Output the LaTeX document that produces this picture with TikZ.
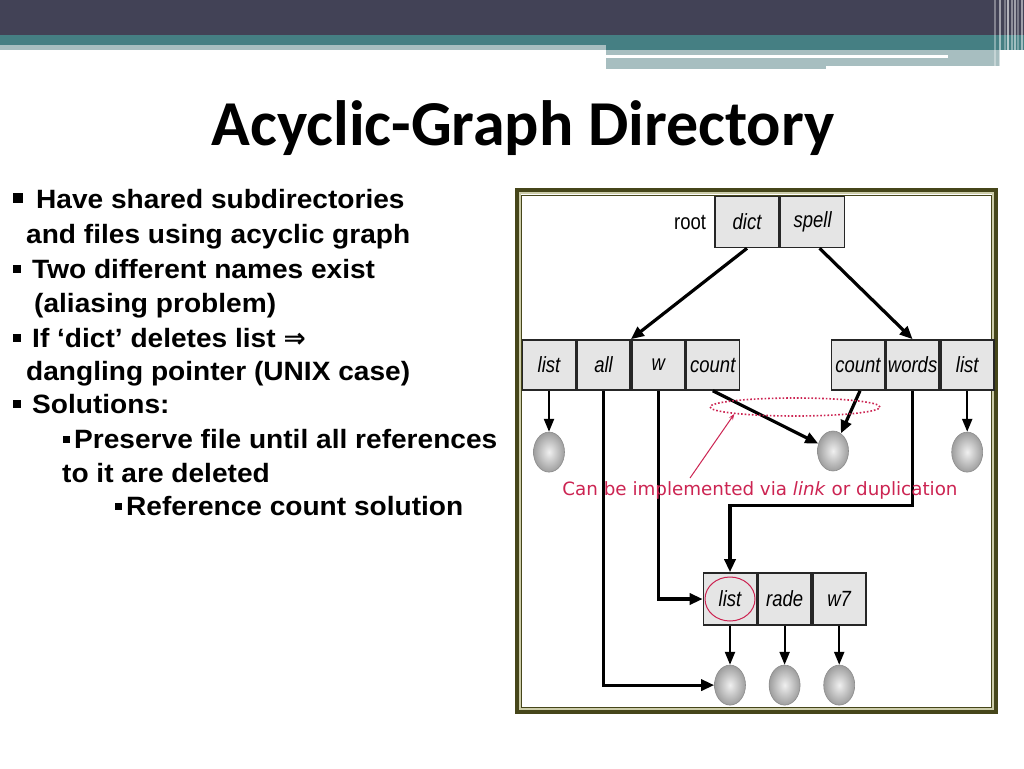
\documentclass[tikz,border=0pt]{standalone}
\usepackage{fontspec}
\setmainfont{Liberation Sans}
\newfontfamily\titlefont{Carlito}
\newfontfamily\bodyfont[FakeStretch=1.06]{Liberation Sans}
\newfontfamily\labelfont[FakeStretch=0.84]{Liberation Sans}
\newfontfamily\notefont{DejaVu Sans}
\usetikzlibrary{positioning,shapes.geometric,arrows.meta}

\definecolor{bannerdark}{RGB}{66,66,86}
\definecolor{bannerteal}{RGB}{69,127,131}
\definecolor{bannerlight}{RGB}{167,190,192}
\definecolor{framedark}{RGB}{70,70,26}
\definecolor{framelight}{RGB}{205,205,170}
\definecolor{linkred}{RGB}{204,36,82}

\newcommand{\sqbullet}[1]{\rule[5pt]{#1}{#1}}

\begin{document}
\begin{tikzpicture}[x=1pt,y=-1pt]
    \tikzset{
        cell/.style={draw=black!85, fill=black!10, line width=1.6pt, minimum width=53pt,
            minimum height=50pt, inner sep=0pt, font=\labelfont\itshape\fontsize{22}{22}\selectfont},
        filenode/.style={ellipse, draw=black!45, line width=0.6pt, minimum width=31pt,
            minimum height=40pt, inner sep=0pt, inner color=black!6, outer color=black!38},
        link/.style={line width=3.2pt, -{Triangle[length=13pt,width=11pt]}},
        thinlink/.style={line width=2.2pt, -{Triangle[length=13pt,width=10pt]}},
        bullettext/.style={anchor=base west, inner sep=0pt, font=\bodyfont\bfseries\fontsize{26.5}{30}\selectfont}
    }
    \useasboundingbox (0,0) rectangle (1024,768);
    \fill[white] (0,0) rectangle (1024,768);

    % banner
    \fill[bannerdark] (0,0) rectangle (1024,35);
    \fill[bannerteal] (0,35) rectangle (1024,45);
    \fill[bannerteal] (606,45) rectangle (1024,50);
    \fill[bannerlight] (0,45) rectangle (606,50);
    \fill[bannerlight] (606,50) rectangle (1000,66);
    \fill[bannerlight] (606,66) rectangle (826,69);
    \fill[white] (606,55) rectangle (948,58);
    \foreach \xx/\op in {995/0.35,1000/0.5,1005/0.3,1008/0.6,1012/0.4,1015/0.5,1018/0.3,1022/0.5}
        \draw[white, opacity=\op, line width=1.5pt] (\xx,0) -- (\xx,68);

    % title
    \node[anchor=base, inner sep=0pt, font=\titlefont\bfseries\fontsize{64}{70}\selectfont]
        (title) at (523,145) {Acyclic-Graph Directory};

    % bullets
    \node[bullettext] (t1) at (13,208) {\sqbullet{10pt}\hspace{13pt}Have shared subdirectories};
    \node[bullettext] (t2) at (26,243) {and files using acyclic graph};
    \node[bullettext] (t3) at (13,278) {\sqbullet{8pt}\hspace{11pt}Two different names exist};
    \node[bullettext] (t4) at (34,312) {(aliasing problem)};
    \node[bullettext] (t5) at (13,347) {\sqbullet{8pt}\hspace{11pt}If ‘dict’ deletes list {\notefont ⇒}};
    \node[bullettext] (t6) at (26,380) {dangling pointer (UNIX case)};
    \node[bullettext] (t7) at (13,413) {\sqbullet{8pt}\hspace{11pt}Solutions:};
    \node[bullettext] (t8) at (63,448) {\sqbullet{7pt}\hspace{4pt}Preserve file until all references};
    \node[bullettext] (t9) at (62,482) {to it are deleted};
    \node[bullettext] (t10) at (115,515) {\sqbullet{7pt}\hspace{4pt}Reference count solution};

    % frame
    \draw[framedark, line width=4pt] (517,190) rectangle (996,712);
    \draw[framelight, line width=1.5pt] (520,193) rectangle (993,709);
    \draw[framedark, line width=1pt] (521.5,195) rectangle (991.5,707);

    % directories
    \node[cell, minimum width=64pt, minimum height=51pt] (dict) at (747,222) {dict};
    \node[cell, minimum width=64pt, minimum height=51pt, right=0pt of dict] (spell) {spell};
    \node[left=8pt of dict, inner sep=0pt, font=\labelfont\fontsize{22}{22}\selectfont] (root) {root};

    \node[cell] (list1) at (549,365) {list};
    \node[cell, right=0pt of list1] (all) {all};
    \node[cell, right=0pt of all] (w) {w};
    \node[cell, right=0pt of w] (count1) {count};

    \node[cell] (count2) at (858,365) {count};
    \node[cell, right=0pt of count2] (words) {words};
    \node[cell, right=0pt of words] (list2) {list};

    \node[cell, minimum height=52pt] (blist) at (730,599) {list};
    \node[cell, minimum height=52pt, right=0pt of blist] (rade) {rade};
    \node[cell, minimum height=52pt, right=0pt of rade] (w7) {w7};

    % files
    \node[filenode, below=41pt of list1] (f1) {};
    \node[filenode] (fc) at (833,451) {};
    \node[filenode, below=41pt of list2] (f3) {};
    \node[filenode, below=39pt of blist] (fb1) {};
    \node[filenode, below=39pt of rade] (fb2) {};
    \node[filenode, below=39pt of w7] (fb3) {};

    % links
    \draw[link] (dict.south) -- (w.north west);
    \draw[link] ([xshift=7pt]spell.south) -- (words.north);
    \draw[thinlink] (list1) -- (f1);
    \draw[link] (all.south) |- (fb1.west);
    \draw[link] (w.south) |- (blist.west);
    \draw[link] (count1.south) -- (fc);
    \draw[link] ([xshift=2pt]count2.south) -- (fc);
    \draw[link] (words.south) |- ([yshift=67pt]blist.north) -- (blist.north);
    \draw[thinlink] (list2) -- (f3);
    \draw[thinlink] (blist) -- (fb1);
    \draw[thinlink] (rade) -- (fb2);
    \draw[thinlink] (w7) -- (fb3);

    % note
    \node[ellipse, draw=linkred, dotted, line width=1.6pt, minimum width=170pt,
        minimum height=18pt] (alias) at (795,407) {};
    \draw[linkred, line width=1pt] (blist) ellipse (25pt and 22pt);
    \node[anchor=base, inner sep=0pt, text=linkred, font=\notefont\fontsize{18.3}{20}\selectfont]
        (note) at (760,495) {Can be implemented via \textit{link} or duplication};
    \coordinate (tail) at (690,478);
    \draw[linkred, line width=1pt, -{Stealth[length=6pt]}] (tail) -- (alias.south west);
\end{tikzpicture}
\end{document}
